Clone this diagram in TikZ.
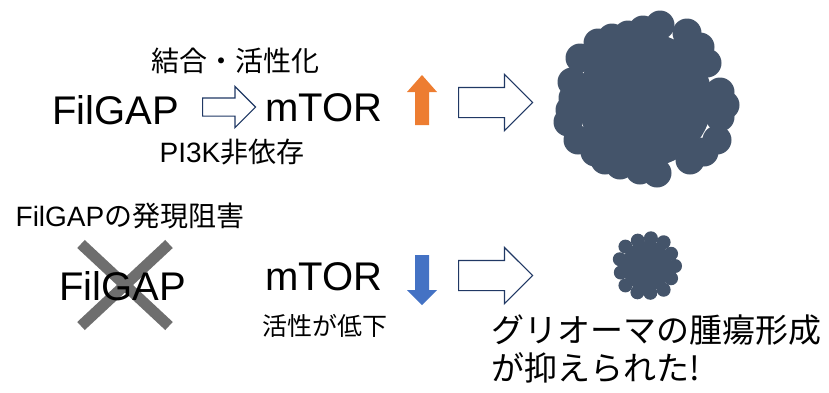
\documentclass[tikz,border=0pt]{standalone}
\usepackage{fontspec}
\setmainfont{Liberation Sans}
\newfontfamily\jpfont{Noto Sans CJK JP}
\usetikzlibrary{shapes.arrows}

\definecolor{TumorBlue}{HTML}{44546A}
\definecolor{ArrowNavy}{HTML}{203864}
\definecolor{UpOrange}{HTML}{ED7D31}
\definecolor{DownBlue}{HTML}{4472C4}
\definecolor{CrossGray}{HTML}{6E6E6E}

\begin{document}
\begin{tikzpicture}[x=1pt, y=-1pt,
        GeneText/.style={font=\fontsize{40}{40}\selectfont, inner sep=0pt, anchor=base west},
        NoteText/.style={font=\fontsize{28}{28}\selectfont, inner sep=0pt},
        HollowArrow/.style={single arrow, draw=ArrowNavy, line width=1.2pt, fill=white, anchor=tail},
        CrossLine/.style={draw=CrossGray, line width=11pt},
        Cell/.style={fill=TumorBlue}]

    \useasboundingbox (0,0) rectangle (829,392);

    % Top row: FilGAP activates mTOR
    \node[GeneText] (GeneTop) at (52,124) {FilGAP};
    \node[GeneText] (MtorTop) at (265,121) {mTOR};
    \node[HollowArrow, inner sep=8.5pt, minimum height=53pt, minimum width=40pt,
        single arrow head extend=11.5pt] (Bind) at (202,107) {};
    \node[NoteText, font=\jpfont\fontsize{28}{28}\selectfont] (BindText) at (235,61) {結合・活性化};
    \node[NoteText] (Pi3kText) at (232,152) {PI3K{\jpfont 非依存}};
    \coordinate (UpBase) at (422,125);
    \fill[UpOrange, shift={(UpBase)}] (-7,0) -- (-7,-33) -- (-15,-33) -- (0,-50)
        -- (15,-33) -- (7,-33) -- (7,0) -- cycle;
    \node[HollowArrow, inner sep=14.5pt, minimum height=74pt, minimum width=55pt,
        single arrow head extend=13pt] (GrowTop) at (458,102.5) {};

    % Large tumour
    \fill[Cell] (645,100) circle (67pt);
    \foreach \cx/\cy in {660/25, 687/33, 628/35, 598/43, 580/58, 707/63, 572/82, 720/92,
            573/98, 568/122, 578/140, 720/117, 717/140, 595/152, 620/165, 657/173, 690/160,
            643/30, 612/38, 700/47, 725/105, 704/152, 640/170, 605/160, 570/110}
        \fill[Cell] (\cx,\cy) circle (14.5pt);

    % Bottom row: FilGAP knocked down
    \node[NoteText] (KnockText) at (130,216) {FilGAP{\jpfont の発現阻害}};
    \draw[CrossLine] (81,244) -- (169,326);
    \draw[CrossLine] (169,244) -- (81,326);
    \node[GeneText] (GeneBottom) at (59,300) {FilGAP};
    \node[GeneText] (MtorBottom) at (265,290) {mTOR};
    \coordinate (DownBase) at (422,255);
    \fill[DownBlue, shift={(DownBase)}] (-7,0) -- (-7,35) -- (-15,35) -- (0,50)
        -- (15,35) -- (7,35) -- (7,0) -- cycle;
    \node[NoteText, font=\jpfont\fontsize{25}{25}\selectfont] (LowText) at (325,326) {活性が低下};
    \node[HollowArrow, inner sep=14.5pt, minimum height=74pt, minimum width=55pt,
        single arrow head extend=13pt] (GrowBottom) at (458,275.5) {};

    % Small tumour
    \fill[Cell] (647,266) circle (25pt);
    \foreach \a/\d in {0/28, 27/27, 55/29, 83/27, 110/28, 138/29, 166/27, 194/28,
            222/29, 250/27, 278/28, 305/29, 333/27}
        \fill[Cell, shift={(647,266)}] (\a:\d) circle (7pt);

    \node[font=\jpfont\fontsize{33}{38}\selectfont, align=left, anchor=north west, inner sep=0pt]
        (Result) at (491,315) {グリオーマの腫瘍形成\\が抑えられた!};
\end{tikzpicture}
\end{document}
